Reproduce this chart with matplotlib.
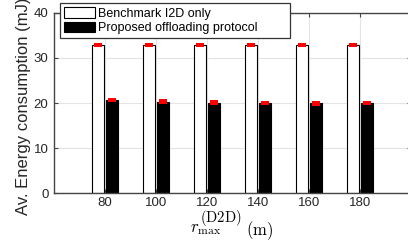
import matplotlib
matplotlib.use("Agg")
import matplotlib.pyplot as plt
import numpy as np

categories = [80, 100, 120, 140, 160, 180]
benchmark = [32.85, 32.85, 32.85, 32.85, 32.85, 32.85]
proposed = [20.65, 20.3, 20.1, 19.95, 19.9, 19.95]
err_half = 0.5
labels = ["Benchmark I2D only", "Proposed offloading protocol"]
yticks = [0, 10, 20, 30, 40]

plt.rcParams['font.family'] = ['Liberation Sans', 'DejaVu Sans']
plt.rcParams['mathtext.fontset'] = 'cm'

W, H = 408, 245
fig = plt.figure(figsize=(W/100, H/100), dpi=100)
ax = fig.add_axes([54/W, 1-193.3/H, (411-54)/W, (193.3-12.7)/H])

x = np.array(categories, dtype=float)
off = 2.75
bw = 5.0
axis_col = '#454545'

ax.bar(x - off, benchmark, width=bw, color='white', edgecolor='black', linewidth=0.8, zorder=2, label=labels[0])
ax.bar(x + off, proposed, width=bw, color='black', edgecolor='black', linewidth=0.8, zorder=2, label=labels[1])
# red error markers
ax.bar(x - off, [2*err_half]*len(x), bottom=np.array(benchmark)-err_half, width=3.2, color='red', linewidth=0, zorder=3)
ax.bar(x + off, [2*err_half]*len(x), bottom=np.array(proposed)-err_half, width=3.2, color='red', linewidth=0, zorder=3)

ax.set_xlim(60, 200)
ax.set_ylim(0, 40)
ax.set_xticks(categories)
ax.set_yticks(yticks)
ax.tick_params(direction='in', length=3, width=0.8, colors=axis_col, labelcolor='#262626',
               labelsize=9.5, top=True, right=True, pad=4)
ax.tick_params(axis='x', pad=3)
ax.grid(True, color='#e3e3e3', linewidth=0.8, zorder=0)
ax.set_axisbelow(True)
for s in ax.spines.values():
    s.set_color(axis_col)
    s.set_linewidth(1.0)

ax.set_ylabel('Av. Energy consumption (mJ)', fontsize=12, color='#262626')
ax.yaxis.set_label_coords(-0.064, 0.48)

# x label composed of LaTeX-like pieces
def fx(px):
    return px / W
def fy(py):
    return 1 - py / H
fig.text(fx(190.5), fy(232), r'$r_{\max}$', fontsize=12, ha='left', va='baseline', color='black')
fig.text(fx(200), fy(221.5), r'$(\mathrm{D2D})$', fontsize=10.5, ha='left', va='baseline', color='black')
fig.text(fx(246.5), fy(235.5), r'$(\mathrm{m})$', fontsize=12, ha='left', va='baseline', color='black')

leg = fig.legend(loc='upper left', bbox_to_anchor=(60/W, 1-3.5/H - 31.5/H, 230/W, 31.5/H),
                 mode='expand', fontsize=9, handlelength=2.5, handleheight=0.9,
                 labelspacing=0.15, borderpad=0.3, handletextpad=0.25, borderaxespad=0,
                 fancybox=False, framealpha=1, edgecolor='#333333')
leg.get_frame().set_linewidth(0.9)

fig.savefig('out.png', dpi=100)
